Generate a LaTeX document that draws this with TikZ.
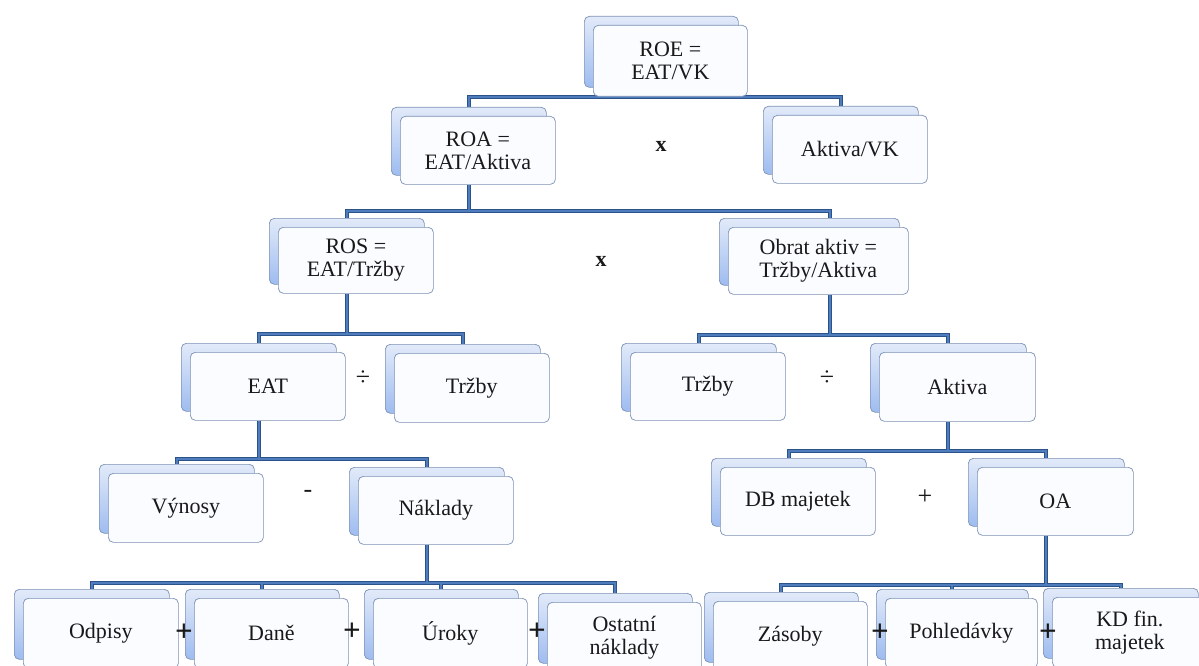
\documentclass[tikz,border=0pt]{standalone}
\usepackage{fontspec}
\setmainfont{Liberation Serif}
\begin{document}
\definecolor{linkedge}{RGB}{44,82,138}
\definecolor{linkcore}{RGB}{78,124,188}
\definecolor{boxline}{RGB}{125,145,180}
\definecolor{backtop}{RGB}{226,234,249}
\definecolor{backbot}{RGB}{158,188,240}
\definecolor{frontfill}{RGB}{250,252,255}
\definecolor{ink}{RGB}{25,25,25}
\tikzset{
  backbox/.style={rectangle, rounded corners=5pt, draw=boxline, line width=0.7pt,
    top color=backtop, bottom color=backbot, inner sep=0pt},
  frontbox/.style={rectangle, rounded corners=5pt, draw=boxline, line width=0.7pt,
    fill=frontfill, inner sep=0pt, align=center, text=ink,
    font=\fontsize{22}{23}\selectfont},
  linkdark/.style={draw=linkedge, line width=4.2pt},
  linklight/.style={draw=linkcore, line width=2.2pt},
  opsign/.style={text=ink, inner sep=0pt, font=\fontsize{26}{26}\selectfont},
  boldsign/.style={text=ink, inner sep=0pt, font=\fontsize{31}{31}\selectfont\bfseries},
  timessign/.style={text=ink, inner sep=0pt, font=\fontsize{22}{22}\selectfont\bfseries},
}
% #1 name, #2 left, #3 top, #4 width, #5 height, #6 text
\newcommand{\pairbox}[6]{%
  \node[backbox, minimum width=#4pt, minimum height=#5pt, anchor=north west] (#1B) at (#2-9,#3-9) {};
  \node[frontbox, minimum width=#4pt, minimum height=#5pt, anchor=north west] (#1) at (#2,#3) {#6};
}
% the full set of boxes
\newcommand{\allboxes}{%
  \pairbox{roe}{593}{25}{154}{71}{ROE =\\EAT/VK}
  \pairbox{roa}{400}{116}{155}{68}{ROA =\\EAT/Aktiva}
  \pairbox{avk}{772}{115}{155}{68}{Aktiva/VK}
  \pairbox{ros}{278}{227}{155}{66}{ROS =\\EAT/Tržby}
  \pairbox{obrat}{728}{227}{180}{67}{Obrat aktiv =\\Tržby/Aktiva}
  \pairbox{eat}{190}{352}{155}{68}{EAT}
  \pairbox{trzl}{394}{353}{155}{69}{Tržby}
  \pairbox{trzr}{630}{352}{155}{68}{Tržby}
  \pairbox{akt}{879}{352}{156}{69}{Aktiva}
  \pairbox{vyn}{108}{473}{155}{69}{Výnosy}
  \pairbox{nak}{358}{476}{155}{68}{Náklady}
  \pairbox{db}{720}{467}{155}{68}{DB majetek}
  \pairbox{oa}{977}{467}{156}{68}{OA}
  \pairbox{odp}{23}{598}{155}{70}{Odpisy}
  \pairbox{dan}{194}{598}{154}{70}{Daně}
  \pairbox{uro}{373}{598}{154}{70}{Úroky}
  \pairbox{ost}{547}{602}{154}{70}{Ostatní\\náklady}
  \pairbox{zas}{713}{601}{154}{70}{Zásoby}
  \pairbox{poh}{885}{598}{152}{70}{Pohledávky}
  \pairbox{kd}{1052}{597}{155}{70}{KD fin.\\majetek}
}
% all connector paths; drawn twice (dark edge, then light core)
\newcommand{\links}[1]{%
  \draw[#1] (roeB.north |- roe.south) -- (roeB.north |- bus1);
  \draw[#1] (roaB.north) -- (roaB.north |- bus1) -- (avkB.north |- bus1) -- (avkB.north);
  \draw[#1] (roaB.north |- roa.south) -- (roaB.north |- bus2);
  \draw[#1] (rosB.north) -- (rosB.north |- bus2) -- (obx |- bus2) -- (obx |- obratB.north);
  \draw[#1] (rosB.north |- ros.south) -- (rosB.north |- bus3);
  \draw[#1] (eatB.north) -- (eatB.north |- bus3) -- (trzlB.north |- bus3) -- (trzlB.north);
  \draw[#1] (obx |- obrat.south) -- (obx |- bus3r);
  \draw[#1] (trzrB.north) -- (trzrB.north |- bus3r) -- (aktB.north |- bus3r) -- (aktB.north);
  \draw[#1] (eatB.north |- eat.south) -- (eatB.north |- bus4);
  \draw[#1] (vynB.north) -- (vynB.north |- bus4) -- (nakB.north |- bus4) -- (nakB.north);
  \draw[#1] (aktB.north |- akt.south) -- (aktB.north |- bus4r);
  \draw[#1] (dbB.north) -- (dbB.north |- bus4r) -- (oaB.north |- bus4r) -- (oaB.north);
  \draw[#1] (nakB.north |- nak.south) -- (nakB.north |- bus5);
  \draw[#1] (odpB.north) -- (odpB.north |- bus5) -- (ostB.north |- bus5) -- (ostB.north);
  \draw[#1] (danB.north) -- (danB.north |- bus5);
  \draw[#1] (uroB.north) -- (uroB.north |- bus5);
  \draw[#1] (oaB.north |- oa.south) -- (oaB.north |- bus5r);
  \draw[#1] (zasB.north) -- (zasB.north |- bus5r) -- (kdB.north |- bus5r) -- (kdB.north);
  \draw[#1] (pohB.north) -- (pohB.north |- bus5r);
}
\begin{tikzpicture}[x=1pt, y=-1pt]
  \useasboundingbox (0,0) rectangle (1199,666);
  \fill[white] (0,0) rectangle (1199,666);
  \clip (0,0) rectangle (1199,666);

  % bus levels
  \coordinate (bus1) at (0,97);
  \coordinate (bus2) at (0,211);
  \coordinate (bus3) at (0,334);
  \coordinate (bus3r) at (0,335);
  \coordinate (bus4) at (0,459);
  \coordinate (bus4r) at (0,451);
  \coordinate (bus5) at (0,583);
  \coordinate (bus5r) at (0,585);
  \coordinate (obx) at (830,0);

  % boxes are laid out once unseen so the links know their anchors
  \begin{scope}[opacity=0]
    \allboxes
  \end{scope}

  % connectors
  \links{linkdark}
  \links{linklight}

  % visible boxes on top of the connectors
  \allboxes

  % operators between the boxes
  \node[timessign] (x1) at (661,146) {x};
  \node[timessign] (x2) at (601,261) {x};
  \node[opsign] (d1) at (363,378) {÷};
  \node[opsign] (d2) at (827,378) {÷};
  \node[opsign] (m1) at (308,494) {-};
  \node[opsign] (p1) at (925,497) {+};
  \node[boldsign] (p2) at (184,633) {+};
  \node[boldsign] (p3) at (352,632) {+};
  \node[boldsign] (p4) at (537,632) {+};
  \node[boldsign] (p5) at (880,633) {+};
  \node[boldsign] (p6) at (1048,633) {+};
\end{tikzpicture}
\end{document}
